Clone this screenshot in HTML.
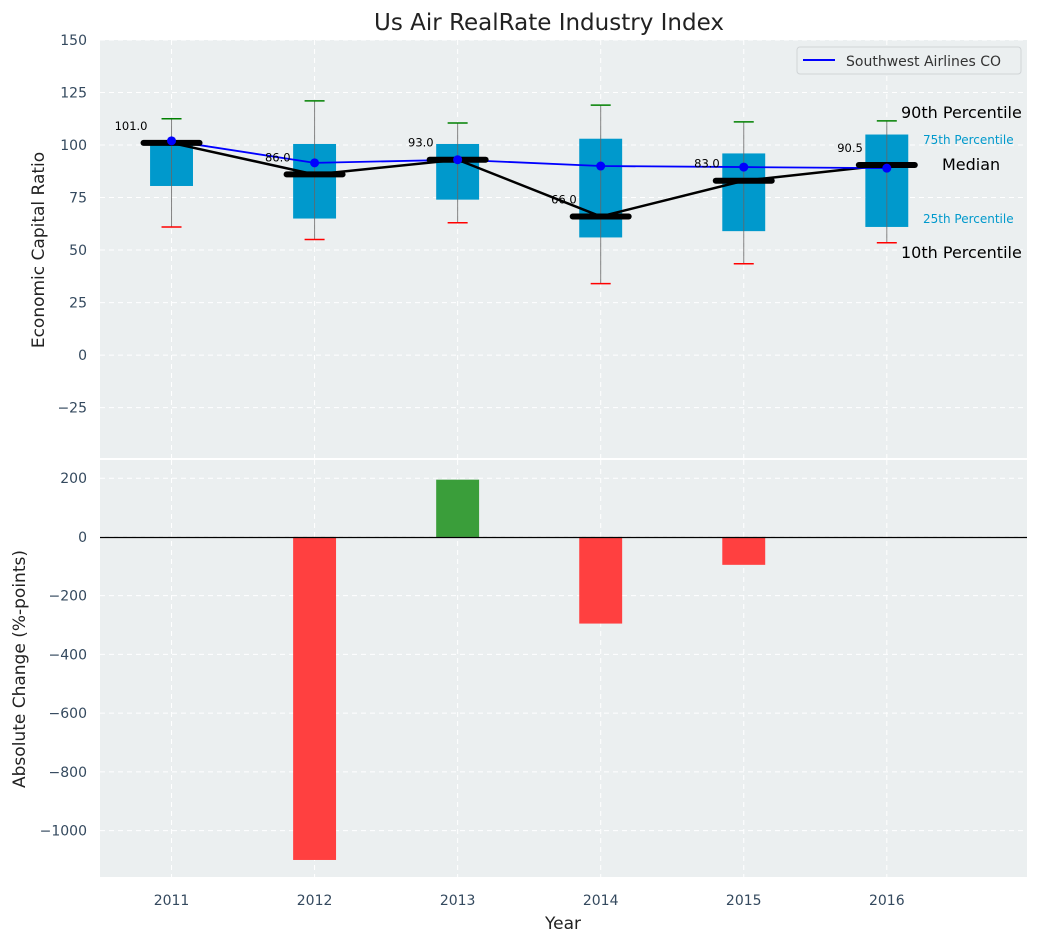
<!DOCTYPE html>
<html><head><meta charset="utf-8"><style>
body{margin:0;background:#fff;font-family:"Liberation Sans","DejaVu Sans",sans-serif}
svg text{font-family:"DejaVu Sans","Liberation Sans",sans-serif}
</style></head><body>
<svg id="c" width="1039" height="942" xmlns="http://www.w3.org/2000/svg"></svg>
<script>
const years=['2011','2012','2013','2014','2015','2016'];
const p10=[61,55,63,34,43.5,53.5];
const p25=[80.5,65,74,56,59,61];
const medians=[101,86,93,66,83,90.5];
const p75=[102,100.5,100.5,103,96,105];
const p90=[112.5,121,110.5,119,111,111.5];
const southwest=[102,91.5,93,90,89.5,89];
const changes=[0,-1100,195,-295,-95,0];
const topTicks=[150,125,100,75,50,25,0,-25];
const botTicks=[200,0,-200,-400,-600,-800,-1000];

const NS='http://www.w3.org/2000/svg';
const svg=document.getElementById('c');
function el(t,a,p){const e=document.createElementNS(NS,t);for(const k in a)e.setAttribute(k,a[k]);(p||svg).appendChild(e);return e;}
const L=100,R=1027;
const X=i=>L+(i+0.5)*(R-L)/6.48;
const T0=40,T1=458,B0=460,B1=877;
const yT=v=>T0+(150-v)*(T1-T0)/(150+49);
const yB=v=>B0+(262-v)*(B1-B0)/(262+1158);

let r=el('rect',{x:L,y:T0,width:R-L,height:T1-T0,fill:'#ebeff0'});

r=el('rect',{x:L,y:B0,width:R-L,height:B1-B0,fill:'#ebeff0'});


years.forEach((y,i)=>{
 [[T0,T1],[B0,B1]].forEach(([a,b])=>{const g=el('line',{x1:X(i),x2:X(i),y1:a,y2:b,stroke:'#fff','stroke-dasharray':'5,4','stroke-width':1});
 });
 const t=el('text',{x:X(i),y:905,'text-anchor':'middle','font-size':14,fill:'#34495e'});t.textContent=y;
 
});
topTicks.forEach(v=>{
 const g=el('line',{x1:L,x2:R,y1:yT(v),y2:yT(v),stroke:'#fff','stroke-dasharray':'5,4'});
 
 const t=el('text',{x:87,y:yT(v)+5,'text-anchor':'end','font-size':14,fill:'#34495e'});t.textContent=v<0?'\u2212'+(-v):v;
 
});
botTicks.forEach(v=>{
 const g=el('line',{x1:L,x2:R,y1:yB(v),y2:yB(v),stroke:'#fff','stroke-dasharray':'5,4'});
 
 const t=el('text',{x:87,y:yB(v)+5,'text-anchor':'end','font-size':14,fill:'#34495e'});t.textContent=v<0?'\u2212'+(-v):v;
 
});

const bw=(R-L)/6.48*0.3;
years.forEach((y,i)=>{
 const x=X(i);
 const b=el('rect',{x:x-bw/2,y:yT(p75[i]),width:bw,height:yT(p25[i])-yT(p75[i]),fill:'#0099cc'});
 
 const w=el('line',{x1:x,x2:x,y1:yT(p90[i]),y2:yT(p10[i]),stroke:'#666','stroke-width':1,opacity:0.8});
 
 const h=el('line',{x1:x-10,x2:x+10,y1:yT(p90[i]),y2:yT(p90[i]),stroke:'green','stroke-width':1.5});
 
 const lo=el('line',{x1:x-10,x2:x+10,y1:yT(p10[i]),y2:yT(p10[i]),stroke:'red','stroke-width':1.5});
 
});
let pm=el('polyline',{points:medians.map((v,i)=>X(i)+','+yT(v)).join(' '),fill:'none',stroke:'#000','stroke-width':2.5});

let ps=el('polyline',{points:southwest.map((v,i)=>X(i)+','+yT(v)).join(' '),fill:'none',stroke:'#0000ff','stroke-width':1.8});

years.forEach((y,i)=>{
 const x=X(i);
 const m=el('line',{x1:x-28,x2:x+28,y1:yT(medians[i]),y2:yT(medians[i]),stroke:'#000','stroke-width':6,'stroke-linecap':'round'});
 
 const d=el('circle',{cx:x,cy:yT(southwest[i]),r:4.5,fill:'#0000ff'});
 
 const t=el('text',{x:x-24,y:yT(medians[i])-13,'text-anchor':'end','font-size':11.5,fill:'#000'});t.textContent=medians[i].toFixed(1);
 
});
[['90th Percentile',901,118,16,'#000'],['75th Percentile',923,144,12,'#0099cc'],['Median',942,170,16,'#000'],['25th Percentile',923,223,12,'#0099cc'],['10th Percentile',901,258,16,'#000']].forEach(a=>{
 const t=el('text',{x:a[1],y:a[2],'font-size':a[3],fill:a[4]});t.textContent=a[0];
 
});
const lg=el('g',{});
el('rect',{x:797,y:47,width:224,height:27,rx:3,fill:'#ebeff0',stroke:'#d0d4d6'},lg);
el('line',{x1:803,x2:835,y1:60,y2:60,stroke:'#0000ff','stroke-width':2},lg);
const lt=el('text',{x:846,y:66,'font-size':14,fill:'#333'},lg);lt.textContent='Southwest Airlines CO';
years.forEach((y,i)=>{
 const v=changes[i];if(v===0)return;
 const y0=Math.min(yB(0),yB(v)),hh=Math.abs(yB(v)-yB(0));
 const b=el('rect',{x:X(i)-bw/2,y:y0,width:bw,height:hh,fill:v<0?'#ff4040':'#3a9e3a'});
 
});
const zy=Math.round(yB(0))+0.5;
let z=el('line',{x1:L,x2:R,y1:zy,y2:zy,stroke:'#000','stroke-width':1.2});

let t=el('text',{x:549,y:30,'text-anchor':'middle','font-size':23,fill:'#222'});t.textContent='Us Air RealRate Industry Index';

t=el('text',{x:563,y:929,'text-anchor':'middle','font-size':17,fill:'#222'});t.textContent='Year';

t=el('text',{x:0,y:0,'text-anchor':'middle','font-size':17,fill:'#222',transform:'translate(44,250) rotate(-90)'});t.textContent='Economic Capital Ratio';

t=el('text',{x:0,y:0,'text-anchor':'middle','font-size':17,fill:'#222',transform:'translate(25,669) rotate(-90)'});t.textContent='Absolute Change (%-points)';

</script>
</body></html>
